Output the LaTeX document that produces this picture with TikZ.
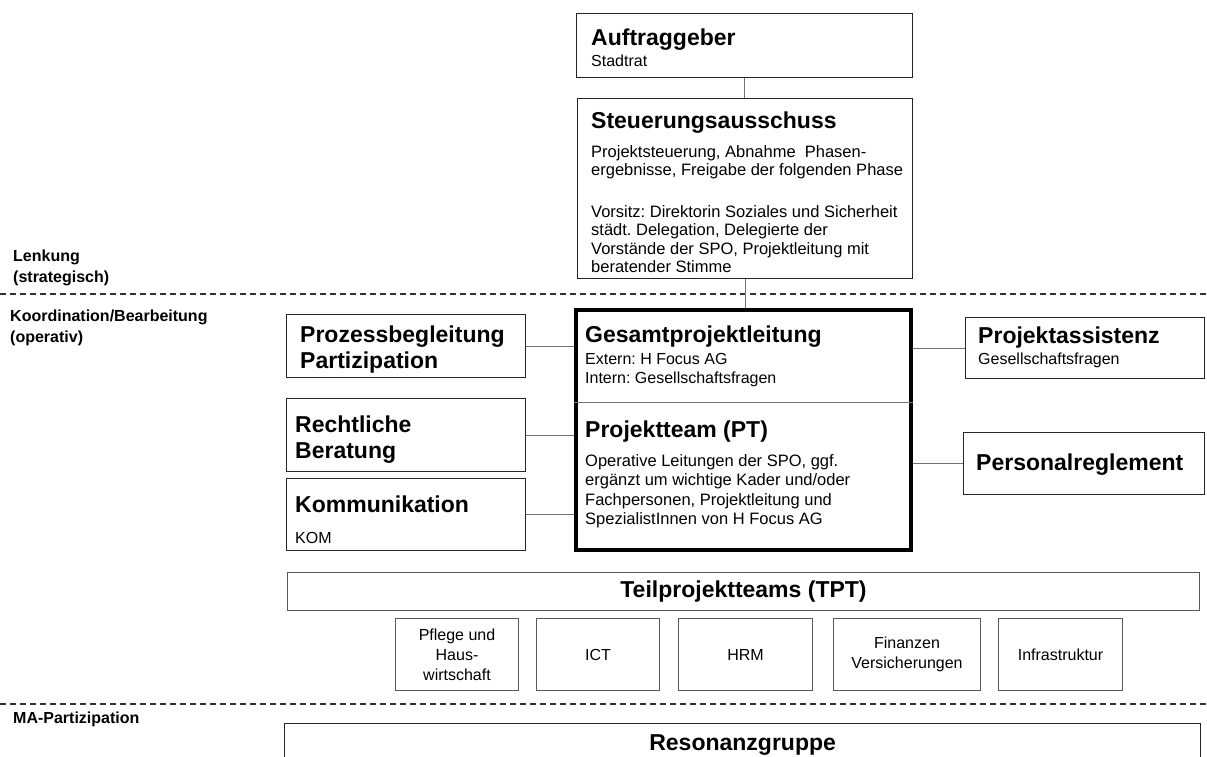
\documentclass[tikz,border=0pt]{standalone}
\usepackage{fontspec}
\setmainfont{Liberation Sans}
\usetikzlibrary{positioning}
\frenchspacing

\begin{document}
\begin{tikzpicture}[
  x=1pt, y=-1pt,
  box/.style={rectangle, draw=black!85, line width=1.2pt, inner sep=0pt, anchor=north west},
  gplbox/.style={box, draw=black, line width=3.5pt},
  teambox/.style={box, draw=black!65, line width=1pt, align=center, font=\fontsize{16}{20}\selectfont},
  hd/.style={inner sep=0pt, anchor=base west, align=left, font=\fontsize{23}{26}\selectfont\bfseries},
  txt/.style={inner sep=0pt, anchor=base west, align=left, font=\fontsize{16.5}{18.5}\selectfont},
  subtxt/.style={inner sep=0pt, anchor=base west, align=left, font=\fontsize{16}{19}\selectfont},
  lbl/.style={inner sep=0pt, anchor=base west, align=left, font=\fontsize{16}{20.5}\selectfont\bfseries},
  conn/.style={draw=black!55, line width=1pt},
  divline/.style={draw=black!80, line width=1.2pt, dash pattern=on 6pt off 4pt}
]
\useasboundingbox (0,0) rectangle (1207,756);
\clip (0,0) rectangle (1207,756);

\node[box, minimum width=336, minimum height=64] (auftr) at (576,13) {};
\node[hd] (auftr-t) at (591,45) {Auftraggeber};
\node[subtxt] (auftr-s) at (591,66) {Stadtrat};

\node[box, minimum width=335, minimum height=180] (steuer) at (577,98) {};
\node[hd] (steuer-t) at (591,128) {Steuerungsausschuss};
\node[txt] (steuer-s) at (591,272.5) {Projektsteuerung, Abnahme \ Phasen-\\ergebnisse, Freigabe der folgenden Phase\\[23pt]Vorsitz: Direktorin Soziales und Sicherheit\\städt. Delegation, Delegierte der\\Vorstände der SPO, Projektleitung mit\\beratender Stimme};

\node[lbl] (lenk) at (13,282) {Lenkung\\(strategisch)};
\node[lbl] (koord) at (10,342) {Koordination/Bearbeitung\\(operativ)};
\node[lbl] (ma) at (13,723) {MA-Partizipation};

\coordinate (d1w) at (0,294);
\coordinate (d1e) at (1207,294);
\coordinate (d2w) at (0,704);
\coordinate (d2e) at (1207,704);
\draw[divline] (d1w) -- (d1e);
\draw[divline] (d2w) -- (d2e);

\node[gplbox, minimum width=335, minimum height=240] (gpl) at (574,308) {};
\coordinate (split) at (741,402);
\draw[conn] (gpl.west |- split) -- (gpl.east |- split);
\node[hd] (gpl-t) at (585,342) {Gesamtprojektleitung};
\node[subtxt] (gpl-s) at (585,383) {Extern: H Focus AG\\Intern: Gesellschaftsfragen};
\node[hd] (pt-t) at (585,437) {Projektteam (PT)};
\node[txt, font=\fontsize{16.5}{19.5}\selectfont] (pt-s) at (585,524.5) {Operative Leitungen der SPO, ggf.\\ergänzt um wichtige Kader und/oder\\Fachpersonen, Projektleitung und\\SpezialistInnen von H Focus AG};

\node[box, minimum width=239, minimum height=63] (proz) at (286,314) {};
\node[hd] (proz-t) at (300,368) {Prozessbegleitung\\Partizipation};
\node[box, minimum width=239, minimum height=73] (recht) at (286,398) {};
\node[hd] (recht-t) at (295,458) {Rechtliche\\Beratung};
\node[box, minimum width=239, minimum height=72] (komm) at (286,478) {};
\node[hd] (komm-t) at (295,512) {Kommunikation};
\node[subtxt] (komm-s) at (295,543) {KOM};

\node[box, minimum width=239, minimum height=61] (assist) at (965,317) {};
\node[hd] (assist-t) at (978,343) {Projektassistenz};
\node[subtxt] (assist-s) at (978,364) {Gesellschaftsfragen};
\node[box, minimum width=241, minimum height=62] (perso) at (963,432) {};
\node[hd] (perso-t) at (976,470) {Personalreglement};

\draw[conn] (auftr.south) -- (auftr.south |- steuer.north);
\draw[conn] (steuer.south) -- (steuer.south |- gpl.north);
\draw[conn] (proz.east) -- (proz.east -| gpl.west);
\draw[conn] (recht.east) -- (recht.east -| gpl.west);
\draw[conn] (komm.east) -- (komm.east -| gpl.west);
\draw[conn] (gpl.east |- assist.west) -- (assist.west);
\draw[conn] (gpl.east |- perso.west) -- (perso.west);

\node[box, draw=black!65, line width=1pt, minimum width=912, minimum height=38, font=\fontsize{23}{26}\selectfont\bfseries] (tpt) at (287,572) {Teilprojektteams (TPT)};
\node[teambox, minimum width=123, minimum height=72] (pflege) at (395,618) {Pflege und\\Haus-\\wirtschaft};
\node[teambox, minimum width=123, minimum height=72] (ict) at (536,618) {ICT};
\node[teambox, minimum width=134, minimum height=72] (hrm) at (678,618) {HRM};
\node[teambox, minimum width=147, minimum height=72] (finanz) at (833,618) {Finanzen\\Versicherungen};
\node[teambox, minimum width=124, minimum height=72] (infra) at (998,618) {Infrastruktur};

\node[box, minimum width=916, minimum height=42, font=\fontsize{23}{26}\selectfont\bfseries] (reson) at (284,723) {Resonanzgruppe};
\end{tikzpicture}
\end{document}
